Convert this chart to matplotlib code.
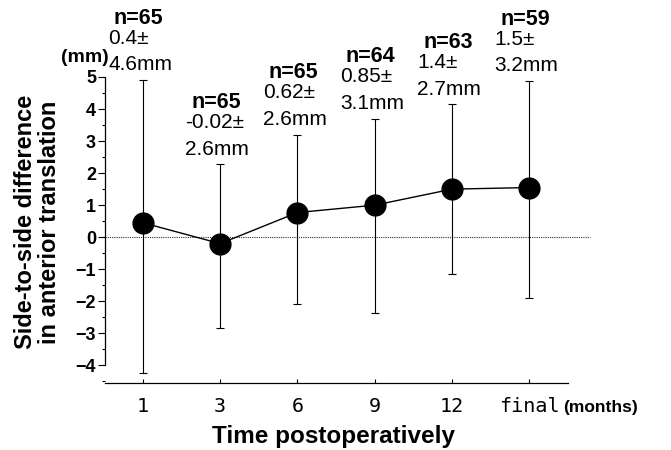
import matplotlib
matplotlib.use("Agg")
import matplotlib.pyplot as plt
from matplotlib.ticker import MultipleLocator

plt.rcParams["font.family"] = ["Liberation Sans", "DejaVu Sans"]
plt.rcParams["axes.unicode_minus"] = True

# 数据
time_labels = ["1", "3", "6", "9", "12", "final"]
n_counts = [65, 65, 65, 64, 63, 59]
mean_text = ["0.4", "-0.02", "0.62", "0.85", "1.4", "1.5"]
sd_text = ["4.6", "2.6", "2.6", "3.1", "2.7", "3.2"]
# 图上读出的点位和误差线端点
mean_plot = [0.45, -0.2, 0.77, 1.0, 1.5, 1.55]
bar_top = [4.9, 2.27, 3.2, 3.7, 4.15, 4.88]
bar_bottom = [-4.25, -2.83, -2.1, -2.37, -1.15, -1.9]

x = list(range(len(time_labels)))
err_low = [m - b for m, b in zip(mean_plot, bar_bottom)]
err_high = [t - m for m, t in zip(mean_plot, bar_top)]

fig = plt.figure(figsize=(6.71, 4.5), dpi=100)
ax = fig.add_axes([0.1565, 0.1489, 0.690, 0.680])

# 零线（虚线，超出坐标轴右端）
ax.axhline(0, xmin=0, xmax=1.047, color="#333333", lw=0.8, ls=(0, (1, 1)),
           clip_on=False, zorder=1)

ax.errorbar(x, mean_plot, yerr=[err_low, err_high], fmt="none", ecolor="black",
            elinewidth=0.8, capsize=3, capthick=0.8, zorder=2)
ax.plot(x, mean_plot, color="black", lw=1, marker="o", ms=15, zorder=3)

# 每个时间点上方的注释
for i in x:
    ax.annotate(f"{mean_text[i]}±\n{sd_text[i]}mm", xy=(i, bar_top[i]),
                xytext=(-2, 7), textcoords="offset points", ha="center",
                va="baseline", ma="left", fontsize=15, linespacing=1.5,
                annotation_clip=False)
    ax.annotate(f"n={n_counts[i]}", xy=(i, bar_top[i]), xytext=(-3, 40.5),
                textcoords="offset points", ha="center", va="baseline",
                fontsize=15.5, fontweight="bold", annotation_clip=False)

ax.set_xlim(-0.49, 5.5)
ax.set_ylim(-4.55, 5)
ax.set_xticks(x)
ax.set_xticklabels(time_labels, family=["DejaVu Sans Mono"], fontsize=14.5)
ax.set_yticks(range(-4, 6))
ax.yaxis.set_minor_locator(MultipleLocator(0.5))
for lab in ax.get_yticklabels():
    lab.set_fontweight("bold")
    lab.set_fontsize(13)

ax.tick_params(axis="x", direction="in", length=3, width=0.8, pad=10)
ax.tick_params(axis="y", which="major", direction="out", length=5, width=0.8, pad=1.5)
ax.tick_params(axis="y", which="minor", direction="out", length=2.5, width=0.8)

for side in ("top", "right"):
    ax.spines[side].set_visible(False)
ax.spines["left"].set_bounds(-4, 5)
ax.spines["left"].set_linewidth(0.9)
ax.spines["bottom"].set_linewidth(0.9)

ax.annotate("(months)", xy=(5, 0), xycoords=("data", "axes fraction"),
            xytext=(24, -21), textcoords="offset points", ha="left",
            va="baseline", fontsize=12.5, fontweight="bold",
            annotation_clip=False)

fig.text(61 / 671, 1 - 58 / 450, "(mm)", ha="left", va="center",
         fontsize=14, fontweight="bold")
fig.text(0.056, 0.507, "Side-to-side difference\nin anterior translation",
         rotation=90, ha="center", va="center", fontsize=17,
         fontweight="bold", linespacing=1.05)
fig.text(333 / 671, 1 - 437 / 450, "Time postoperatively", ha="center",
         va="center", fontsize=17.5, fontweight="bold")

fig.savefig("out.png", dpi=100)
